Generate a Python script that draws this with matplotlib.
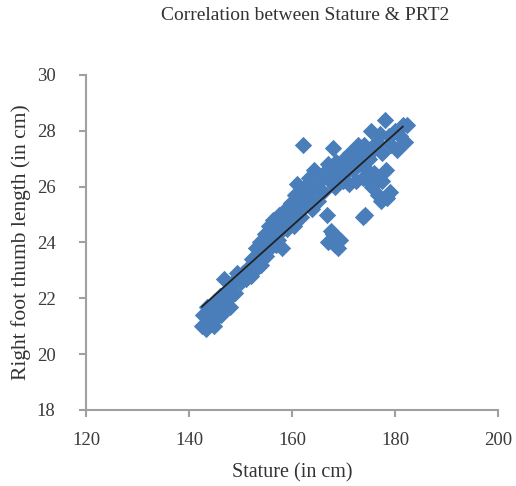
import numpy as np
import matplotlib
matplotlib.use("Agg")
import matplotlib.pyplot as plt

# values
stature = [
    142.5, 142.8, 143.3, 143.5, 144.0, 144.3, 144.8, 145.0, 145.3, 145.8,
    146.0, 146.3, 146.8, 147.0, 147.5, 147.8, 148.0, 148.5, 149.0, 149.3,
    150.0, 150.5, 151.0, 151.5, 152.0, 152.3,
    152.8, 153.0, 153.3, 153.8, 154.0, 154.3, 154.8, 155.0, 155.3, 155.5,
    155.8, 156.0, 156.3, 156.8, 157.0, 157.3, 157.5, 157.8, 158.0, 158.3,
    158.8, 159.0, 159.3, 159.8, 160.0, 160.3, 160.5, 160.8, 161.0, 161.3,
    161.8, 162.0, 162.3, 162.5, 163.0, 163.3, 163.8, 164.0, 164.3, 164.8,
    165.0, 162.1,
    165.5, 166.0, 166.3, 167.0, 167.3, 167.8, 168.0, 168.3, 168.5, 169.0,
    169.3, 169.8, 170.0, 170.3, 170.8, 171.0, 171.3, 171.8, 172.0, 172.5,
    172.8, 173.0, 173.5, 173.8, 174.0, 174.5, 174.8, 175.0, 175.3, 175.8,
    176.0, 176.5, 177.0, 177.5, 178.0, 178.3, 178.8, 179.3, 180.0, 180.4,
    181.0, 181.5, 182.0, 182.3,
    166.8, 167.0, 167.5, 168.0, 168.3, 169.0, 169.3, 173.8, 174.2, 176.7,
    177.3, 179.0, 178.5, 175.5, 176.0, 177.5,
]
thumb = [
    21.0, 21.4, 20.9, 21.7, 21.2, 21.5, 21.0, 21.9, 21.3, 21.6,
    22.1, 21.4, 22.7, 21.8, 22.3, 22.0, 21.7, 22.6, 22.2, 22.9,
    22.6, 22.9, 22.7, 23.1, 22.8, 23.4,
    23.0, 23.8, 23.3, 24.0, 23.2, 23.6, 24.3, 23.5, 24.0, 24.6,
    23.8, 24.2, 24.8, 23.9, 24.5, 24.1, 25.0, 24.4, 23.8, 24.8,
    25.2, 24.5, 24.9, 25.4, 25.0, 24.6, 25.7, 25.2, 26.1, 25.5,
    24.9, 25.8, 25.3, 26.0, 25.6, 26.3, 25.2, 25.9, 26.6, 26.0,
    25.5, 27.5,
    26.2, 25.8, 26.5, 26.8, 26.2, 26.5, 27.4, 26.0, 26.9, 26.4,
    26.7, 26.2, 27.0, 26.5, 26.9, 26.1, 27.2, 26.6, 27.0, 26.2,
    27.5, 26.8, 27.2, 26.3, 27.5, 26.6, 26.2, 27.0, 28.0, 27.3,
    26.5, 27.6, 27.9, 27.2, 28.4, 26.6, 27.8, 27.5, 28.0, 27.3,
    27.8, 28.2, 27.6, 28.2,
    25.0, 24.0, 24.4, 24.3, 23.9, 23.8, 24.1, 24.9, 25.0, 25.7,
    25.5, 25.8, 25.6, 26.0, 26.3, 26.2,
]
trend_x = [142.5, 181.5]
trend_y = [21.7, 28.15]

x_ticks = [120, 140, 160, 180, 200]
y_ticks = [18, 20, 22, 24, 26, 28, 30]

plt.rcParams['font.family'] = ['Liberation Serif', 'DejaVu Serif']

fig = plt.figure(figsize=(5.16, 4.86), dpi=100)
ax = fig.add_axes([0.1667, 0.1564, 0.7985, 0.6893])

ax.scatter(stature, thumb, marker='D', s=78, color='#4a7ebb', linewidths=0, zorder=2)
ax.plot(trend_x, trend_y, color='#222222', lw=1.3, zorder=3)

ax.set_xlim(120, 200)
ax.set_ylim(18, 30)
ax.set_xticks(x_ticks)
ax.set_yticks(y_ticks)

grey = '#a0a0a0'
for s in ['top', 'right']:
    ax.spines[s].set_visible(False)
for s in ['left', 'bottom']:
    ax.spines[s].set_color(grey)
    ax.spines[s].set_linewidth(1.5)
ax.tick_params(colors=grey, labelcolor='#3a3a3a', labelsize=13.5, width=1.5, length=5, direction='out')
ax.tick_params(axis='x', pad=11)
ax.tick_params(axis='y', pad=17)

ax.set_xlabel('Stature (in cm)', fontsize=14.5, color='#333333', labelpad=10)
ax.set_ylabel('Right foot thumb length (in cm)', fontsize=15.5, color='#333333', labelpad=4)

fig.text(0.591, 0.969, 'Correlation between Stature & PRT2', ha='center', va='center',
         fontsize=14, color='#333333')

fig.savefig('out.png', dpi=100)
